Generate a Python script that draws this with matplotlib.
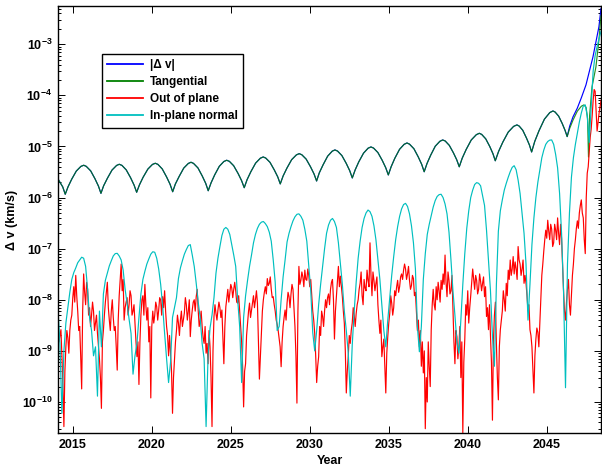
import matplotlib
matplotlib.use("Agg")
import matplotlib.pyplot as plt
import matplotlib.ticker as mticker
import numpy as np

plt.rcParams.update({
    "font.family": ["Liberation Sans", "DejaVu Sans"],
    "font.weight": "bold",
    "font.size": 9,
    "mathtext.fontset": "custom",
    "mathtext.rm": "Liberation Sans:bold",
    "mathtext.it": "Liberation Sans:bold:italic",
    "mathtext.bf": "Liberation Sans:bold",
    "axes.linewidth": 1.0,
    "xtick.direction": "in",
    "ytick.direction": "in",
})

# tangential component: cusp minima, arch maxima and points in between
T_YEARS = [
    2014.05, 2014.35, 2014.51, 2014.69, 2014.92, 2015.21, 2015.50, 2015.68,
    2015.84, 2016.12, 2016.39, 2016.61, 2016.77, 2016.94, 2017.18, 2017.47,
    2017.76, 2017.93, 2018.10, 2018.37, 2018.645, 2018.865, 2019.03, 2019.21,
    2019.44, 2019.74, 2020.03, 2020.21, 2020.375, 2020.65, 2020.925, 2021.145,
    2021.31, 2021.48, 2021.72, 2022.01, 2022.30, 2022.47, 2022.63, 2022.91,
    2023.18, 2023.40, 2023.56, 2023.74, 2023.97, 2024.26, 2024.55, 2024.73,
    2024.90, 2025.17, 2025.45, 2025.67, 2025.84, 2026.02, 2026.26, 2026.56,
    2026.86, 2027.04, 2027.20, 2027.47, 2027.74, 2027.96, 2028.12, 2028.30,
    2028.54, 2028.84, 2029.14, 2029.32, 2029.485, 2029.76, 2030.035, 2030.255,
    2030.42, 2030.59, 2030.83, 2031.12, 2031.41, 2031.58, 2031.745, 2032.02,
    2032.295, 2032.515, 2032.68, 2032.86, 2033.09, 2033.39, 2033.68, 2033.86,
    2034.025, 2034.30, 2034.575, 2034.795, 2034.96, 2035.14, 2035.37, 2035.67,
    2035.96, 2036.14, 2036.30, 2036.58, 2036.85, 2037.07, 2037.23, 2037.41,
    2037.64, 2037.93, 2038.22, 2038.40, 2038.56, 2038.82, 2039.08, 2039.29,
    2039.45, 2039.64, 2039.89, 2040.21, 2040.53, 2040.72, 2040.87, 2041.125,
    2041.38, 2041.58, 2041.73, 2041.94, 2042.21, 2042.55, 2042.89, 2043.10,
    2043.24, 2043.47, 2043.70, 2043.89, 2044.03, 2044.23, 2044.50, 2044.84,
    2045.18, 2045.38, 2045.515, 2045.74, 2045.965, 2046.145, 2046.28, 2046.44,
    2046.65, 2046.92, 2047.18, 2047.34, 2047.48, 2047.57, 2047.63, 2047.70,
    2047.85, 2048.10, 2048.29, 2048.42,
]
T_VALUES = [
    2.31e-6, 1.62e-6, 1.16e-6, 1.63e-6, 2.29e-6, 3.30e-6, 4.07e-6, 4.29e-6,
    4.08e-6, 3.33e-6, 2.34e-6, 1.68e-6, 1.21e-6, 1.70e-6, 2.39e-6, 3.45e-6,
    4.25e-6, 4.48e-6, 4.26e-6, 3.48e-6, 2.45e-6, 1.76e-6, 1.27e-6, 1.78e-6,
    2.50e-6, 3.61e-6, 4.45e-6, 4.69e-6, 4.46e-6, 3.63e-6, 2.53e-6, 1.82e-6,
    1.30e-6, 1.84e-6, 2.59e-6, 3.77e-6, 4.65e-6, 4.91e-6, 4.66e-6, 3.80e-6,
    2.65e-6, 1.90e-6, 1.36e-6, 1.94e-6, 2.78e-6, 4.08e-6, 5.08e-6, 5.37e-6,
    5.11e-6, 4.20e-6, 2.96e-6, 2.15e-6, 1.56e-6, 2.24e-6, 3.21e-6, 4.72e-6,
    5.89e-6, 6.23e-6, 5.93e-6, 4.89e-6, 3.48e-6, 2.54e-6, 1.85e-6, 2.64e-6,
    3.76e-6, 5.51e-6, 6.84e-6, 7.23e-6, 6.88e-6, 5.65e-6, 4.00e-6, 2.91e-6,
    2.11e-6, 3.04e-6, 4.37e-6, 6.46e-6, 8.09e-6, 8.55e-6, 8.13e-6, 6.64e-6,
    4.67e-6, 3.36e-6, 2.42e-6, 3.47e-6, 5.00e-6, 7.39e-6, 9.25e-6, 9.78e-6,
    9.30e-6, 7.60e-6, 5.34e-6, 3.84e-6, 2.77e-6, 4.02e-6, 5.86e-6, 8.78e-6,
    1.10e-5, 1.17e-5, 1.11e-5, 9.02e-6, 6.28e-6, 4.48e-6, 3.20e-6, 4.65e-6,
    6.74e-6, 1.01e-5, 1.26e-5, 1.34e-5, 1.28e-5, 1.05e-5, 7.50e-6, 5.48e-6,
    4.00e-6, 5.92e-6, 8.76e-6, 1.34e-5, 1.70e-5, 1.81e-5, 1.72e-5, 1.41e-5,
    9.99e-6, 7.24e-6, 5.25e-6, 8.00e-6, 1.22e-5, 1.91e-5, 2.47e-5, 2.64e-5,
    2.51e-5, 2.07e-5, 1.47e-5, 1.07e-5, 7.80e-6, 1.26e-5, 2.04e-5, 3.42e-5,
    4.60e-5, 4.95e-5, 4.72e-5, 3.92e-5, 2.82e-5, 2.07e-5, 1.56e-5, 2.26e-5,
    3.28e-5, 4.89e-5, 6.14e-5, 6.50e-5, 5.80e-5, 3.50e-5, 6.2e-6, 4.0e-5,
    1.45e-4, 3.6e-4, 1.2e-3, 3.6e-3,
]

# |dv| follows the tangential part up to the last cusp, then runs away
DV_SPLIT_YEAR = 2046.28
DV_TAIL_YEARS = [2046.44, 2046.65, 2046.92, 2047.18, 2047.47, 2047.91, 2048.29, 2048.42]
DV_TAIL_VALUES = [2.5e-5, 3.8e-5, 5.6e-5, 9.0e-5, 1.6e-4, 5.6e-4, 2.2e-3, 5.0e-3]

# out of plane and in-plane normal, sampled every 1/8 year from 2014.05
GRID_START, GRID_STEP = 2014.05, 0.125
OUT_OF_PLANE = [
    3e-9, 2e-9, 8e-10, 3.3e-11, 1.2e-9, 1.8e-9, 2.5e-9, 5e-9,            # 2014
    1.8e-8, 3e-8, 6e-9, 3e-9, 1.8e-10, 3.2e-8, 8e-9, 1.6e-8,             # 2015
    7e-9, 5e-9, 6e-9, 3.5e-9, 2.2e-9, 7e-10, 7.5e-11, 2.5e-9,            # 2016
    9e-9, 2.2e-8, 4e-9, 6e-9, 4.5e-9, 3e-9, 4.2e-10, 1.2e-8,             # 2017
    5e-8, 2.5e-8, 7e-9, 1.1e-8, 8e-9, 1.2e-8, 6e-9, 3.5e-9,              # 2018
    7.7e-10, 2.2e-10, 5e-9, 1.2e-8, 2e-8, 4e-9, 1.5e-9, 1.2e-10,         # 2019
    6e-9, 5e-9, 7.3e-9, 6.3e-9, 1e-8, 1.15e-8, 1.5e-8, 3e-9,             # 2020
    8e-10, 9e-10, 6e-11, 7e-10, 2.5e-9, 3.5e-9, 4e-9, 3e-9,              # 2021
    5.5e-9, 8e-9, 6e-9, 1.9e-9, 6.3e-9, 1e-8, 1.15e-8, 6.3e-9,           # 2022
    4e-9, 3e-9, 1.4e-9, 9e-10, 5.6e-10, 1.2e-9, 3.3e-11, 4.7e-9,         # 2023
    5.4e-9, 6.3e-9, 7e-9, 6.3e-9, 5.6e-10, 7.3e-9, 1.6e-8, 1.35e-8,      # 2024
    1.7e-8, 1.6e-8, 1.5e-8, 8.6e-9, 6e-9, 1.5e-9, 8e-11, 5.6e-10,        # 2025
    3.5e-9, 8.6e-9, 6.3e-9, 1.2e-8, 1e-8, 8.6e-9, 2.8e-10, 2.2e-9,       # 2026
    1e-8, 1.8e-8, 2.6e-8, 2.1e-8, 1.6e-8, 1.15e-8, 6e-9, 3.3e-9,         # 2027
    1.7e-9, 4.9e-10, 3e-9, 6.3e-9, 8.6e-9, 1.15e-8, 1.3e-8, 1.6e-8,      # 2028
    3e-9, 9.5e-11, 4.5e-8, 2.4e-8, 2.8e-8, 3.8e-8, 2.4e-8, 3e-8,         # 2029
    2.5e-8, 6e-9, 2.2e-9, 2.4e-10, 7.7e-10, 2e-9, 4.7e-9, 6e-9,          # 2030
    7e-9, 1.3e-8, 1.6e-8, 2.5e-8, 1.7e-9, 1.2e-8, 4.5e-8, 2.9e-8,        # 2031
    1.15e-8, 3.5e-9, 1.5e-10, 8e-10, 1.4e-9, 3.5e-9, 5e-9, 5.4e-9,       # 2032
    1e-8, 2.1e-8, 1.2e-8, 2.5e-8, 1.5e-8, 2.4e-8, 1.3e-7, 1.2e-8,        # 2033
    2.4e-8, 2.1e-8, 8e-9, 2.2e-9, 7.7e-10, 1.7e-9, 1.5e-10, 1.9e-9,      # 2034
    5.4e-9, 8.6e-9, 7e-9, 1.2e-8, 2.4e-8, 1.8e-8, 3.2e-8, 3.8e-8,        # 2035
    4e-8, 3.2e-8, 2.4e-8, 1.9e-8, 2.6e-8, 1.4e-8, 2.5e-9, 1.2e-9,        # 2036
    5e-10, 3.7e-10, 3e-11, 1e-10, 5e-10, 2.6e-9, 1.6e-8, 6.3e-9,         # 2037
    1e-8, 1.5e-8, 2.4e-8, 3.2e-8, 7.5e-8, 1.15e-8, 2.4e-8, 1.5e-8,       # 2038
    6.3e-9, 5.6e-10, 1.9e-9, 1.2e-9, 3e-10, 2.5e-11, 1.7e-9, 5e-9,       # 2039
    3.5e-9, 1.2e-8, 4e-8, 1.6e-8, 2.4e-8, 1.6e-8, 2.3e-8, 2.1e-8,        # 2040
    1.15e-8, 4.7e-9, 2.6e-9, 2e-9, 4.4e-11, 5e-9, 1.4e-9, 1.1e-10,       # 2041
    2.6e-9, 6e-9, 1e-8, 2.1e-8, 3.8e-8, 6e-8, 4e-8, 3.2e-8,              # 2042
    4e-8, 1.1e-7, 5e-8, 4e-8, 2.1e-8, 2.1e-8, 6e-9, 2.6e-9,              # 2043
    1.2e-9, 1.5e-10, 1.7e-9, 2.3e-9, 3.5e-9, 3e-8, 9e-8, 2.3e-7,         # 2044
    3.6e-7, 1.5e-7, 2.4e-7, 1.3e-7, 2.3e-7, 4e-7, 1.2e-7, 1.6e-7,        # 2045
    1.5e-8, 4e-9, 1.6e-8, 8e-9, 1.2e-8, 5e-8, 1.5e-7, 3.5e-7,            # 2046
    5e-7, 9e-7, 4e-7, 8e-8, 3e-6, 8e-6, 2.2e-5, 8e-5,                    # 2047
    1.2e-4, 2e-5, 4.5e-5, 8e-5,                                          # 2048
]
# out of plane samples that fall halfway between the ones above
OUT_OF_PLANE_MID = [
    1.5e-9, 2.6e-9, 2e-10, 4e-10, 2.5e-9, 9e-10, 4e-9, 1.1e-8,           # 2014
    9e-9, 1.2e-8, 2.5e-9, 8e-10, 6e-9, 1.4e-8, 2.2e-8, 5e-9,             # 2015
    3e-9, 9e-9, 2.5e-9, 5e-9, 1.2e-9, 3e-10, 1.5e-9, 5e-9,               # 2016
    1.4e-8, 7e-9, 2.5e-9, 1e-8, 2.5e-9, 1.2e-9, 4e-9, 2.5e-8,            # 2017
    1.5e-8, 4e-9, 9e-9, 5e-9, 1.5e-8, 5e-9, 8e-9, 1.5e-9,                # 2018
    1.5e-9, 1.5e-9, 1e-8, 5e-9, 8e-9, 7e-9, 3e-9, 3e-9,                  # 2019
    3.5e-9, 9e-9, 4e-9, 1.1e-8, 5e-9, 7e-9, 6e-9, 2e-9,                  # 2020
    2e-9, 4e-10, 3e-10, 1.5e-9, 5e-9, 2e-9, 6e-9, 4e-9,                  # 2021
    1.1e-8, 4e-9, 1e-8, 4e-9, 9e-9, 6e-9, 1.6e-8, 3e-9,                  # 2022
    6e-9, 1.8e-9, 3e-9, 1.4e-9, 2.5e-9, 3e-10, 1e-9, 8e-9,               # 2023
    4e-9, 9e-9, 4.5e-9, 2e-9, 3e-9, 1.1e-8, 9e-9, 2e-8,                  # 2024
    1.1e-8, 2.2e-8, 9e-9, 1.2e-8, 3e-9, 5e-10, 4e-10, 2e-9,              # 2025
    6e-9, 4.5e-9, 9e-9, 7e-9, 1.5e-8, 1.5e-9, 8e-10, 6e-9,               # 2026
    1.4e-8, 1.3e-8, 1.9e-8, 2.8e-8, 1.1e-8, 8e-9, 4e-9, 2.5e-9,          # 2027
    1.2e-9, 1.5e-9, 4.5e-9, 4e-9, 1.4e-8, 7e-9, 2e-8, 7e-9,              # 2028
    8e-10, 6e-9, 2e-8, 3.5e-8, 1.8e-8, 2.5e-8, 4e-8, 1.8e-8,             # 2029
    1.2e-8, 4e-9, 8e-10, 5e-10, 3e-9, 6e-9, 3e-9, 1e-8,                  # 2030
    1.1e-8, 8e-9, 2.2e-8, 1e-8, 6e-9, 2.5e-8, 1.8e-8, 1.8e-8,            # 2031
    6e-9, 1e-9, 4e-10, 2e-9, 2.5e-9, 7e-9, 3e-9, 8e-9,                   # 2032
    1.6e-8, 3.5e-8, 8e-9, 1.7e-8, 3.8e-8, 1.8e-8, 3e-8, 3.5e-8,          # 2033
    1.5e-8, 2.8e-8, 4e-9, 4e-9, 1.2e-9, 5e-10, 9e-10, 3.5e-9,            # 2034
    1.2e-8, 5e-9, 1.5e-8, 1.8e-8, 1.4e-8, 2.8e-8, 2.5e-8, 5e-8,          # 2035
    2.5e-8, 4.5e-8, 1.6e-8, 3e-8, 1.2e-8, 6e-9, 4e-9, 2.5e-9,            # 2036
    1.5e-9, 1e-9, 3e-10, 1.5e-9, 2e-10, 8e-9, 8e-9, 1.8e-8,              # 2037
    2.2e-8, 9e-9, 1.6e-8, 2e-8, 2.2e-8, 3.5e-8, 1.3e-8, 3e-8,            # 2038
    1.5e-9, 2.5e-9, 7e-10, 3e-9, 1.5e-9, 6e-10, 8e-9, 1.5e-8,            # 2039
    7e-9, 2.2e-8, 2.5e-8, 3e-8, 1.3e-8, 3.2e-8, 1.5e-8, 2.8e-8,          # 2040
    1.8e-8, 7e-9, 8e-9, 6e-10, 1.5e-9, 9e-9, 3e-10, 1.2e-9,              # 2041
    4e-9, 1.5e-8, 6e-9, 1.2e-8, 2.5e-8, 3e-8, 7e-8, 5.5e-8,              # 2042
    2.5e-8, 6e-8, 3e-8, 6e-8, 3e-8, 1.2e-8, 8e-9, 2e-9,                  # 2043
    4e-10, 8e-10, 2.8e-9, 1.2e-9, 1e-8, 5e-8, 1.5e-7, 1.6e-7,            # 2044
    2.2e-7, 3e-7, 1.1e-7, 3e-7, 1.5e-7, 2e-7, 3e-7, 5e-8,                # 2045
    6e-9, 9e-9, 2.5e-8, 5e-9, 3e-8, 1e-7, 2.5e-7, 2.5e-7,                # 2046
    7e-7, 5e-7, 1.5e-7, 1e-6, 4e-6, 1.5e-5, 4e-5, 1.3e-4,                # 2047
    5e-5, 3e-5, 6e-5,                                                    # 2048
]
IN_PLANE_NORMAL = [
    6.3e-9, 1.4e-9, 6e-11, 1.0e-9, 3.5e-9, 7e-9, 1.4e-8, 2.5e-8,          # 2014
    3.4e-8, 4.2e-8, 5.3e-8, 6.0e-8, 6.8e-8, 6.5e-8, 4.5e-8, 1.6e-8,      # 2015
    4.5e-9, 2.5e-9, 8e-10, 1.2e-9, 1.3e-10, 6e-9, 1.2e-9, 1.3e-8,        # 2016
    2.4e-8, 3.3e-8, 4.6e-8, 5.8e-8, 7.2e-8, 8.0e-8, 8.1e-8, 7.2e-8,      # 2017
    6.0e-8, 3.8e-8, 1.6e-8, 8.5e-9, 4.2e-9, 2.2e-9, 3.5e-10, 8e-10,      # 2018
    1.4e-9, 4.5e-9, 1.3e-8, 2.5e-8, 3.6e-8, 5e-8, 6.3e-8, 7.8e-8,        # 2019
    8.7e-8, 8.5e-8, 6.5e-8, 4.0e-8, 2.0e-8, 7.5e-9, 2.2e-9, 7e-10,       # 2020
    2.4e-10, 6e-10, 4.5e-9, 7e-9, 1.1e-8, 2.6e-8, 4.2e-8, 5.8e-8,        # 2021
    7.8e-8, 9.6e-8, 1.15e-7, 1.2e-7, 7.5e-8, 4.5e-8, 2.1e-8, 9e-9,       # 2022
    4.5e-9, 1.4e-9, 7e-10, 3.3e-11, 8e-10, 2.8e-9, 5e-9, 1.1e-8,         # 2023
    3.3e-8, 6.5e-8, 1.1e-7, 1.8e-7, 2.4e-7, 2.6e-7, 2.4e-7, 1.9e-7,      # 2024
    1.2e-7, 7.5e-8, 4.5e-8, 1e-8, 3e-9, 2.4e-10, 4.5e-9, 1.2e-8,         # 2025
    2.4e-8, 4.5e-8, 7.5e-8, 1.3e-7, 1.9e-7, 2.5e-7, 3e-7, 3.3e-7,        # 2026
    3.4e-7, 3.1e-7, 2.7e-7, 2.1e-7, 1.4e-7, 6e-8, 2.2e-8, 2.5e-9,        # 2027
    3e-9, 1e-8, 2.8e-8, 6e-8, 1.35e-7, 2e-7, 2.7e-7, 3.5e-7,             # 2028
    4.2e-7, 4.7e-7, 4.8e-7, 4.3e-7, 3.6e-7, 2.4e-7, 1.4e-7, 4.5e-8,      # 2029
    1.5e-8, 2.3e-9, 1.0e-9, 2.5e-9, 8e-9, 2e-8, 4.5e-8, 1e-7,            # 2030
    2e-7, 2.9e-7, 3.6e-7, 3.9e-7, 3.4e-7, 2.6e-7, 1.3e-7, 5e-8,          # 2031
    2e-8, 6e-9, 2.5e-9, 9e-10, 1.3e-10, 1.3e-9, 6e-9, 2.2e-8,            # 2032
    6.5e-8, 1.4e-7, 2.6e-7, 3.9e-7, 5e-7, 5.7e-7, 5.3e-7, 4.3e-7,        # 2033
    2.8e-7, 1.5e-7, 6e-8, 2.5e-8, 8e-9, 2.5e-9, 1.2e-9, 4e-9,            # 2034
    1.1e-8, 3e-8, 7e-8, 1.5e-7, 2.7e-7, 4.3e-7, 6e-7, 7.3e-7,            # 2035
    7.7e-7, 6.7e-7, 4.8e-7, 2.8e-7, 1.3e-7, 4e-8, 3e-9, 9.6e-10,         # 2036
    3e-9, 2.5e-8, 8e-8, 1.9e-7, 3e-7, 4.4e-7, 6.5e-7, 8.7e-7,            # 2037
    1.05e-6, 1.14e-6, 1.16e-6, 1e-6, 7.5e-7, 4.8e-7, 2.1e-7, 6e-8,       # 2038
    1.5e-8, 5e-9, 1.5e-9, 9e-10, 4e-9, 2e-8, 8e-8, 2.5e-7,               # 2039
    5.5e-7, 1e-6, 1.4e-6, 1.8e-6, 1.96e-6, 1.9e-6, 1.7e-6, 1.1e-6,       # 2040
    7e-7, 2.3e-7, 6e-8, 1.5e-8, 2e-9, 5e-10, 2e-8, 2.2e-7,               # 2041
    5.5e-7, 9e-7, 1.4e-6, 1.9e-6, 2.5e-6, 3.2e-6, 3.9e-6, 4.2e-6,        # 2042
    3.5e-6, 2.2e-6, 1.2e-6, 5e-7, 2e-7, 5e-8, 4e-9, 2e-8,                # 2043
    1.2e-7, 4e-7, 1e-6, 2e-6, 3.5e-6, 6e-6, 8.5e-6, 1.1e-5,              # 2044
    1.25e-5, 1.33e-5, 1.34e-5, 1.1e-5, 7e-6, 3.8e-6, 1.2e-6, 2e-7,       # 2045
    1.5e-8, 1.9e-10, 5e-8, 5e-7, 2.5e-6, 6e-6, 1.1e-5, 1.8e-5,           # 2046
    3e-5, 4.5e-5, 6.2e-5, 6.5e-5, 4e-5, 1.2e-5, 6e-5, 3e-4,              # 2047
    6e-4, 9e-4, 1.3e-3, 1.8e-3,                                          # 2048
]

LABELS = ["|\u0394 v|", "Tangential", "Out of plane", "In-plane normal"]
COLORS = ["#0000ff", "#008000", "#ff0000", "#00bfbf"]

grid_years = GRID_START + GRID_STEP * np.arange(len(IN_PLANE_NORMAL))

# interleave the half-step out of plane samples
red_values = np.empty(2 * len(OUT_OF_PLANE) - 1)
red_values[0::2] = OUT_OF_PLANE
red_values[1::2] = OUT_OF_PLANE_MID
red_years = GRID_START + GRID_STEP / 2 * np.arange(len(red_values))

n_shared = T_YEARS.index(DV_SPLIT_YEAR) + 1
dv_years = T_YEARS[:n_shared] + DV_TAIL_YEARS
dv_values = T_VALUES[:n_shared] + DV_TAIL_VALUES

fig = plt.figure(figsize=(6.02, 4.66), dpi=100)
ax = fig.add_axes([0.0963, 0.0708, 0.902, 0.9163])

lw = 0.85
ax.plot(dv_years, dv_values, color=COLORS[0], lw=lw, label=LABELS[0])
ax.plot(T_YEARS, T_VALUES, color=COLORS[1], lw=lw, alpha=0.85, label=LABELS[1])
ax.plot(red_years, red_values, color=COLORS[2], lw=lw, label=LABELS[2])
ax.plot(grid_years, IN_PLANE_NORMAL, color=COLORS[3], lw=lw, label=LABELS[3])

ax.set_yscale("log")
ax.set_xlim(2014.05, 2048.42)
ax.set_ylim(2.47e-11, 5.6e-3)
ax.set_xticks([2015, 2020, 2025, 2030, 2035, 2040, 2045])
ax.set_yticks([1e-10, 1e-9, 1e-8, 1e-7, 1e-6, 1e-5, 1e-4, 1e-3])
ax.yaxis.set_minor_locator(mticker.LogLocator(base=10, subs=np.arange(2, 10), numticks=20))
ax.yaxis.set_minor_formatter(mticker.NullFormatter())
ax.tick_params(which="both", top=True, right=True, direction="in", width=0.7)
ax.tick_params(which="major", length=5, pad=4, labelsize=9)
ax.tick_params(which="minor", length=2.5)

ax.set_xlabel("Year", fontsize=9, fontweight="bold")
ax.set_ylabel("\u0394 v (km/s)", fontsize=9, fontweight="bold")
ax.xaxis.set_label_coords(0.5, -0.052)
ax.yaxis.set_label_coords(-0.0737, 0.5)

leg = ax.legend(loc="upper left", bbox_to_anchor=(0.081, 0.8876), borderaxespad=0,
                fancybox=False, framealpha=1, edgecolor="black", fontsize=8.5,
                handlelength=3.0, handletextpad=0.6, labelspacing=0.42, borderpad=0.45)
leg.get_frame().set_linewidth(1.0)
for line in leg.get_lines():
    line.set_linewidth(1.3)
    line.set_alpha(1)

fig.savefig("out.png", dpi=100)
